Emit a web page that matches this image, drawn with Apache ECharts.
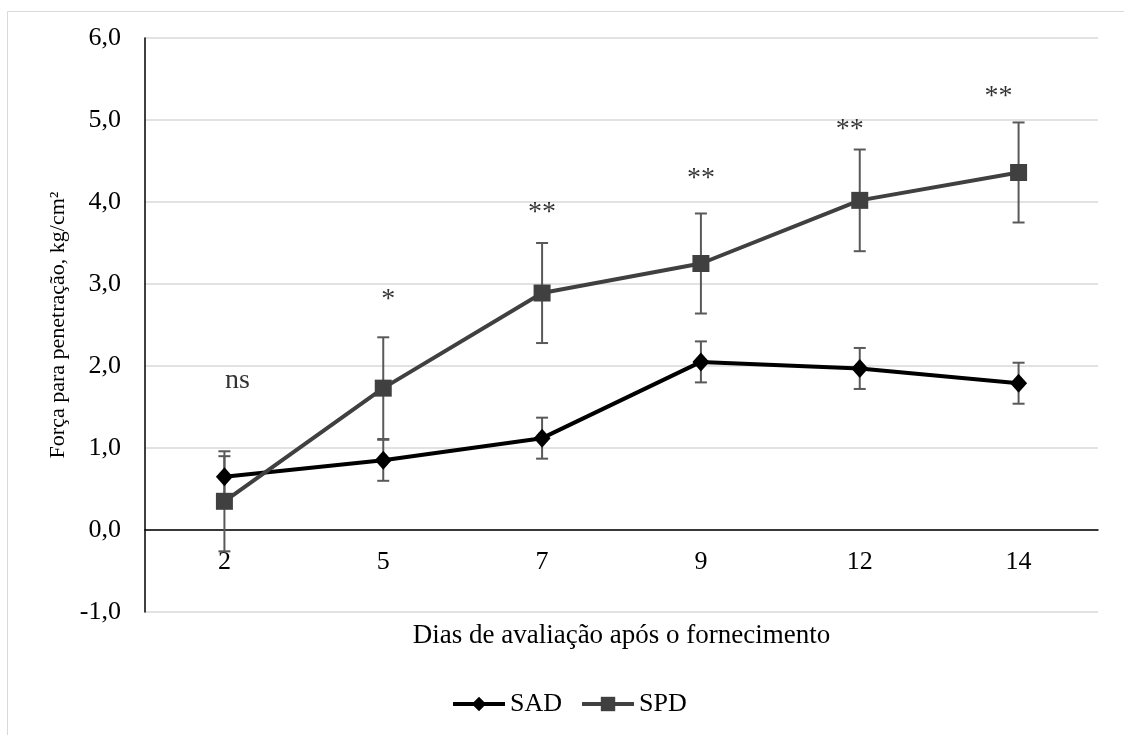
<!DOCTYPE html>
<html>
<head>
<meta charset="utf-8">
<script src="https://cdn.jsdelivr.net/npm/echarts@6/dist/echarts.min.js"></script>
<style>
html,body{margin:0;padding:0;background:#fff;}
#chart{width:1124px;height:735px;}
</style>
</head>
<body>
<div id="chart"></div>
<script>
// ---- data ----
var days = ['2', '5', '7', '9', '12', '14'];
var sad = [0.65, 0.85, 1.12, 2.05, 1.97, 1.79];
var sadErr = [0.25, 0.25, 0.25, 0.25, 0.25, 0.25];
var spd = [0.35, 1.73, 2.89, 3.25, 4.02, 4.36];
var spdErr = [0.61, 0.62, 0.61, 0.61, 0.62, 0.61];
var sig = ['ns', '*', '**', '**', '**', '**'];
var sigY = [1.82, 2.90, 3.96, 4.37, 4.97, 5.37];
var yMin = -1, yMax = 6, yStep = 1;

// ---- chart ----
var FONT = 'Liberation Serif';
var chart = echarts.init(document.getElementById('chart'), null, {renderer: 'canvas'});

var gridTop = 38, gridBottom = 123, H = 735;
// shift the category axis up so that it sits on the value 0
var plotH = H - gridTop - gridBottom;
var zeroShift = -plotH * (0 - yMin) / (yMax - yMin);

function errSeries(vals, errs, color) {
  return {
    type: 'custom',
    silent: true,
    z: 1,
    data: vals.map(function (v, i) { return [i, v, errs[i]]; }),
    renderItem: function (params, api) {
      var x = api.value(0), y = api.value(1), e = api.value(2);
      var top = api.coord([x, y + e]);
      var bot = api.coord([x, y - e]);
      var hw = 6;
      var st = {stroke: color, lineWidth: 2};
      return {
        type: 'group',
        children: [
          {type: 'line', shape: {x1: top[0], y1: top[1], x2: bot[0], y2: bot[1]}, style: st},
          {type: 'line', shape: {x1: top[0] - hw, y1: top[1], x2: top[0] + hw, y2: top[1]}, style: st},
          {type: 'line', shape: {x1: bot[0] - hw, y1: bot[1], x2: bot[0] + hw, y2: bot[1]}, style: st}
        ]
      };
    }
  };
}

var sigDx = [13, 5, 0, 0, -10, -20];
var sigDy = [0, 7, 7, 7, 7, 7];

var option = {
  animation: false,
  backgroundColor: '#ffffff',
  textStyle: {fontFamily: FONT},
  graphic: [{
    type: 'rect',
    shape: {x: 7.5, y: 11.5, width: 1300, height: 900},
    style: {fill: 'none', stroke: '#d9d9d9', lineWidth: 1},
    silent: true,
    z: -10
  }],
  grid: {left: 145, right: 26, top: gridTop, bottom: gridBottom},
  legend: {
    data: ['SAD', 'SPD'],
    top: 686,
    left: 446,
    itemWidth: 52,
    itemHeight: 18,
    itemGap: 18,
    lineStyle: {width: 4},
    textStyle: {fontFamily: FONT, fontSize: 26, color: '#000'}
  },
  xAxis: {
    type: 'category',
    data: days,
    boundaryGap: true,
    offset: zeroShift,
    axisLine: {onZero: false, lineStyle: {color: '#000', width: 1.5}},
    axisTick: {show: false},
    axisLabel: {fontFamily: FONT, fontSize: 26, color: '#000', margin: 19},
    name: 'Dias de avaliação após o fornecimento',
    nameLocation: 'middle',
    nameGap: 92,
    nameTextStyle: {fontFamily: FONT, fontSize: 27, color: '#000'}
  },
  yAxis: {
    type: 'value',
    min: yMin,
    max: yMax,
    interval: yStep,
    axisLine: {show: true, lineStyle: {color: '#000', width: 1.5}},
    axisTick: {show: false},
    splitLine: {show: true, lineStyle: {color: '#d9d9d9', width: 1.5}},
    axisLabel: {
      fontFamily: FONT, fontSize: 26, color: '#000', margin: 24,
      formatter: function (v) { return v.toFixed(1).replace('.', ','); }
    },
    name: 'Força para penetração, kg/cm²',
    nameLocation: 'middle',
    nameGap: 75,
    nameRotate: 90,
    nameTextStyle: {fontFamily: FONT, fontSize: 22, color: '#000'}
  },
  series: [
    errSeries(sad, sadErr, '#595959'),
    errSeries(spd, spdErr, '#595959'),
    {
      name: 'SAD',
      type: 'line',
      data: sad,
      z: 3,
      symbol: 'diamond',
      symbolSize: [17, 19],
      color: '#000000',
      lineStyle: {color: '#000000', width: 4},
      itemStyle: {color: '#000000'}
    },
    {
      name: 'SPD',
      type: 'line',
      data: spd,
      z: 4,
      symbol: 'rect',
      symbolSize: 17,
      color: '#404040',
      lineStyle: {color: '#404040', width: 4},
      itemStyle: {color: '#404040'}
    },
    {
      type: 'scatter',
      silent: true,
      z: 5,
      symbolSize: 0,
      data: sig.map(function (s, i) {
        return {
          value: [i, sigY[i]],
          label: {show: true, formatter: s, offset: [sigDx[i], sigDy[i]]}
        };
      }),
      label: {
        show: true,
        position: 'inside',
        fontFamily: FONT,
        fontSize: 28,
        color: '#000'
      }
    }
  ]
};
chart.setOption(option);
</script>
</body>
</html>
